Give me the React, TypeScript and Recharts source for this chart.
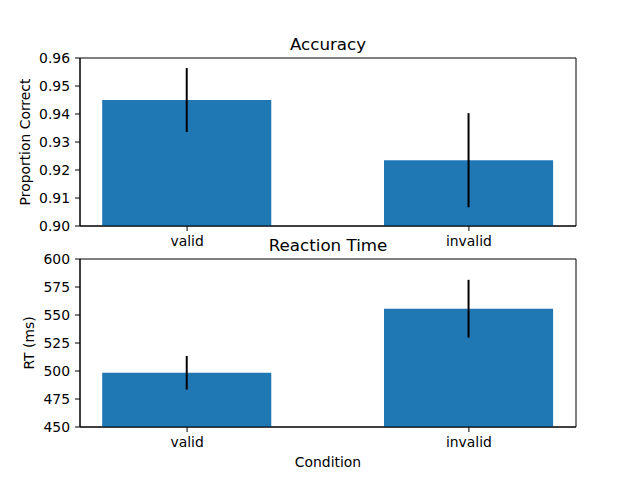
import React from 'react';
import { BarChart, Bar, XAxis, YAxis, ErrorBar, Label, ReferenceArea } from 'recharts';

const conditions = ['valid', 'invalid'];
const accuracyMeans = [0.945, 0.9235];
const accuracyErrors = [0.0114, 0.0168];
const rtMeans = [498.4, 555.6];
const rtErrors = [15.0, 25.8];

const accuracyTicks = [0.9, 0.91, 0.92, 0.93, 0.94, 0.95, 0.96];
const rtTicks = [450, 475, 500, 525, 550, 575, 600];

const accuracyData = conditions.map((name, i) => ({ x: i, name, value: accuracyMeans[i], err: accuracyErrors[i] }));
const rtData = conditions.map((name, i) => ({ x: i, name, value: rtMeans[i], err: rtErrors[i] }));

const W = 640;
const H = 480;
const PLOT_LEFT = 80;
const PLOT_RIGHT = 576;
const X_DOMAIN: [number, number] = [-0.38, 1.38];
const BAR_SIZE = (0.6 * (PLOT_RIGHT - PLOT_LEFT)) / (X_DOMAIN[1] - X_DOMAIN[0]);

const FONT = 'DejaVu Sans, sans-serif';
const tickStyle = { fontFamily: FONT, fontSize: 13.9, fill: '#000' };
const labelStyle = { fontFamily: FONT, fontSize: 13.9, fill: '#000', textAnchor: 'middle' as const };
const titleStyle = { fontFamily: FONT, fontSize: 16.7, fill: '#000' };

interface PanelProps {
  data: { x: number; name: string; value: number; err: number }[];
  yDomain: [number, number];
  yTicks: number[];
  yFormat: (v: number) => string;
  title: string;
  yLabel: string;
  yLabelOffset: number;
  xLabel?: string;
  top: number;
  bottom: number;
}

const Panel: React.FC<PanelProps> = ({ data, yDomain, yTicks, yFormat, title, yLabel, yLabelOffset, xLabel, top, bottom }) => {
  const xHeight = xLabel ? 40 : 30;
  return (
    <div style={{ position: 'absolute', left: 0, top: 0 }}>
      <BarChart
        width={W}
        height={H}
        data={data}
        margin={{ top, right: W - PLOT_RIGHT, bottom: H - bottom - xHeight, left: 0 }}
      >
        <XAxis
          dataKey="x"
          type="number"
          domain={X_DOMAIN}
          ticks={[0, 1]}
          allowDataOverflow
          tickFormatter={(v: number) => conditions[v]}
          height={xHeight}
          tick={tickStyle}
          tickSize={5}
          tickMargin={5}
          axisLine={{ stroke: '#000' }}
          tickLine={{ stroke: '#000' }}
        >
          {xLabel && <Label value={xLabel} position="insideBottom" offset={0} style={labelStyle} />}
        </XAxis>
        <YAxis
          type="number"
          domain={yDomain}
          ticks={yTicks}
          allowDataOverflow
          width={PLOT_LEFT}
          tickFormatter={yFormat}
          tick={tickStyle}
          tickSize={5}
          tickMargin={5}
          axisLine={{ stroke: '#000' }}
          tickLine={{ stroke: '#000' }}
        >
          <Label value={yLabel} angle={-90} position="insideLeft" offset={yLabelOffset} style={labelStyle} />
        </YAxis>
        <Bar dataKey="value" fill="#1f77b4" barSize={BAR_SIZE} isAnimationActive={false}>
          <ErrorBar dataKey="err" direction="y" width={0} stroke="#000" strokeWidth={2} isAnimationActive={false} />
        </Bar>
        {/* axes frame + title */}
        <ReferenceArea
          x1={X_DOMAIN[0]}
          x2={X_DOMAIN[1]}
          y1={yDomain[0]}
          y2={yDomain[1]}
          fill="none"
          fillOpacity={0}
          stroke="#000"
          strokeWidth={1}
          ifOverflow="visible"
        >
          <Label value={title} position="top" offset={8} style={titleStyle} />
        </ReferenceArea>
      </BarChart>
    </div>
  );
};

const App: React.FC = () => {
  return (
    <div style={{ position: 'absolute', left: 0, top: 0, width: W, height: H, background: '#fff' }}>
      <Panel
        data={accuracyData}
        yDomain={[0.9, 0.96]}
        yTicks={accuracyTicks}
        yFormat={(v) => v.toFixed(2)}
        title="Accuracy"
        yLabel="Proportion Correct"
        yLabelOffset={25}
        top={58}
        bottom={226}
      />
      <Panel
        data={rtData}
        yDomain={[450, 600]}
        yTicks={rtTicks}
        yFormat={(v) => String(v)}
        title="Reaction Time"
        yLabel="RT (ms)"
        yLabelOffset={29}
        xLabel="Condition"
        top={259}
        bottom={427}
      />
    </div>
  );
};

export default App;
